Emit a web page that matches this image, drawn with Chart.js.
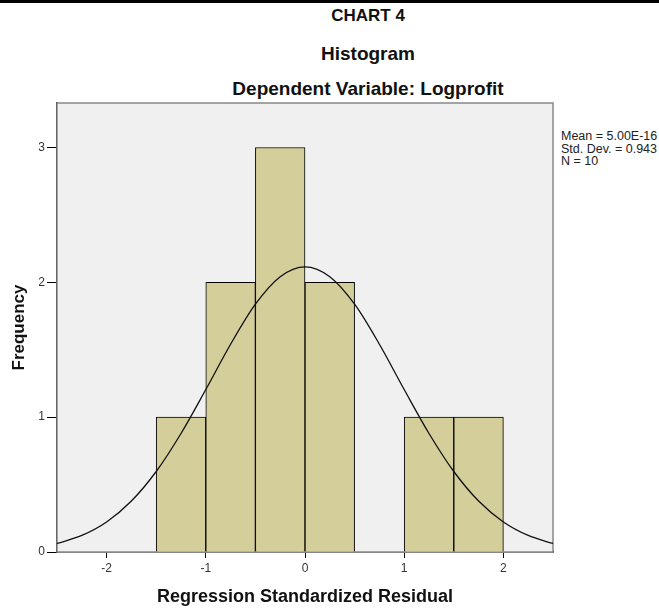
<!DOCTYPE html>
<html>
<head>
<meta charset="utf-8">
<script src="https://cdn.jsdelivr.net/npm/chart.js@4.4.1/dist/chart.umd.min.js"></script>
<style>
  html, body { margin: 0; padding: 0; background: #fff; }
  body { width: 659px; height: 610px; position: relative; overflow: hidden; font-family: "Liberation Sans", Arial, sans-serif; }
  #topline { position: absolute; left: 0; top: 0; width: 659px; height: 3px; background: #000; }
  .ttl { position: absolute; left: 368px; transform: translateX(-50%); white-space: nowrap; color: #111; font-weight: bold; }
  #stats { position: absolute; left: 561px; top: 130px; font-size: 12.5px; line-height: 12.5px; color: #222; white-space: nowrap; }
  #wrap { position: absolute; left: 0; top: 0; width: 659px; height: 610px; }
</style>
</head>
<body>
<div id="topline"></div>
<div class="ttl" style="top:6px;font-size:17px;">CHART 4</div>
<div class="ttl" style="top:43px;font-size:19px;">Histogram</div>
<div class="ttl" style="top:78px;font-size:19px;">Dependent Variable: Logprofit</div>
<div id="stats">Mean = 5.00E-16<br>Std. Dev. = 0.943<br>N = 10</div>
<div id="wrap"><canvas id="hist" width="659" height="610"></canvas></div>
<script>
// bins of the residual histogram (centres) and counts
let binCenters = [-1.25, -0.75, -0.25, 0.25, 0.75, 1.25, 1.75];
let binCounts = [1, 2, 3, 2, 0, 1, 1];

// normal curve
let curveX = [-2.5, -2.25, -2, -1.75, -1.5, -1.25, -1, -0.75, -0.5, -0.25, 0,
  0.25, 0.5, 0.75, 1, 1.25, 1.5, 1.75, 2, 2.25, 2.5];
let curveY = [0.063, 0.123, 0.223, 0.378, 0.597, 0.879, 1.205, 1.541, 1.838, 2.042, 2.115,
  2.042, 1.838, 1.541, 1.205, 0.879, 0.597, 0.378, 0.223, 0.123, 0.063];

let xTicks = [-2, -1, 0, 1, 2];
let yTicks = [0, 1, 2, 3];

let frame = {
  id: 'frame',
  beforeDatasetsDraw(chart) {
    let a = chart.chartArea, ctx = chart.ctx;
    ctx.save();
    ctx.fillStyle = '#f0f0f0';
    ctx.fillRect(a.left, a.top, a.right - a.left, a.bottom - a.top);
    ctx.strokeStyle = '#888';
    ctx.lineWidth = 1.5;
    ctx.strokeRect(a.left, a.top, a.right - a.left, a.bottom - a.top);
    ctx.restore();
  }
};

new Chart(document.getElementById('hist'), {
  data: {
    datasets: [
      {
        type: 'line',
        data: curveX.map((x, i) => ({ x: x, y: curveY[i] })),
        borderColor: '#111',
        borderWidth: 1.3,
        pointRadius: 0,
        cubicInterpolationMode: 'monotone',
        order: 0
      },
      {
        type: 'bar',
        data: binCenters.map((x, i) => ({ x: x, y: binCounts[i] })),
        backgroundColor: '#d3ce9a',
        borderColor: '#000',
        borderWidth: 1,
        barPercentage: 1,
        categoryPercentage: 1,
        order: 1
      }
    ]
  },
  plugins: [frame],
  options: {
    responsive: false,
    animation: false,
    layout: { padding: { left: 0, top: 103, right: 106, bottom: 0 } },
    plugins: { legend: { display: false }, tooltip: { enabled: false } },
    scales: {
      x: {
        type: 'linear',
        offset: false,
        min: -2.5,
        max: 2.5,
        afterBuildTicks: s => { s.ticks = xTicks.map(v => ({ value: v })); },
        afterFit: s => { s.height = 58; },
        grid: { drawOnChartArea: false, offset: false, tickLength: 6, color: '#000' },
        border: { color: '#000', width: 1.5 },
        ticks: { padding: 3, color: '#333', font: { family: 'Liberation Sans', size: 12 } },
        title: {
          display: true,
          text: 'Regression Standardized Residual',
          color: '#111',
          font: { family: 'Liberation Sans', size: 18, weight: 'bold' },
          padding: { top: 0, bottom: 2 }
        }
      },
      y: {
        min: 0,
        max: 3.33,
        afterBuildTicks: s => { s.ticks = yTicks.map(v => ({ value: v })); },
        afterFit: s => { s.width = 57; },
        grid: { drawOnChartArea: false, tickLength: 10, color: '#000' },
        border: { color: '#000', width: 1.5 },
        ticks: { padding: 2, color: '#333', font: { family: 'Liberation Sans', size: 12 } },
        title: {
          display: true,
          text: 'Frequency',
          color: '#111',
          font: { family: 'Liberation Sans', size: 17, weight: 'bold' },
          padding: { top: 9, bottom: 0 }
        }
      }
    }
  }
});
</script>
</body>
</html>
